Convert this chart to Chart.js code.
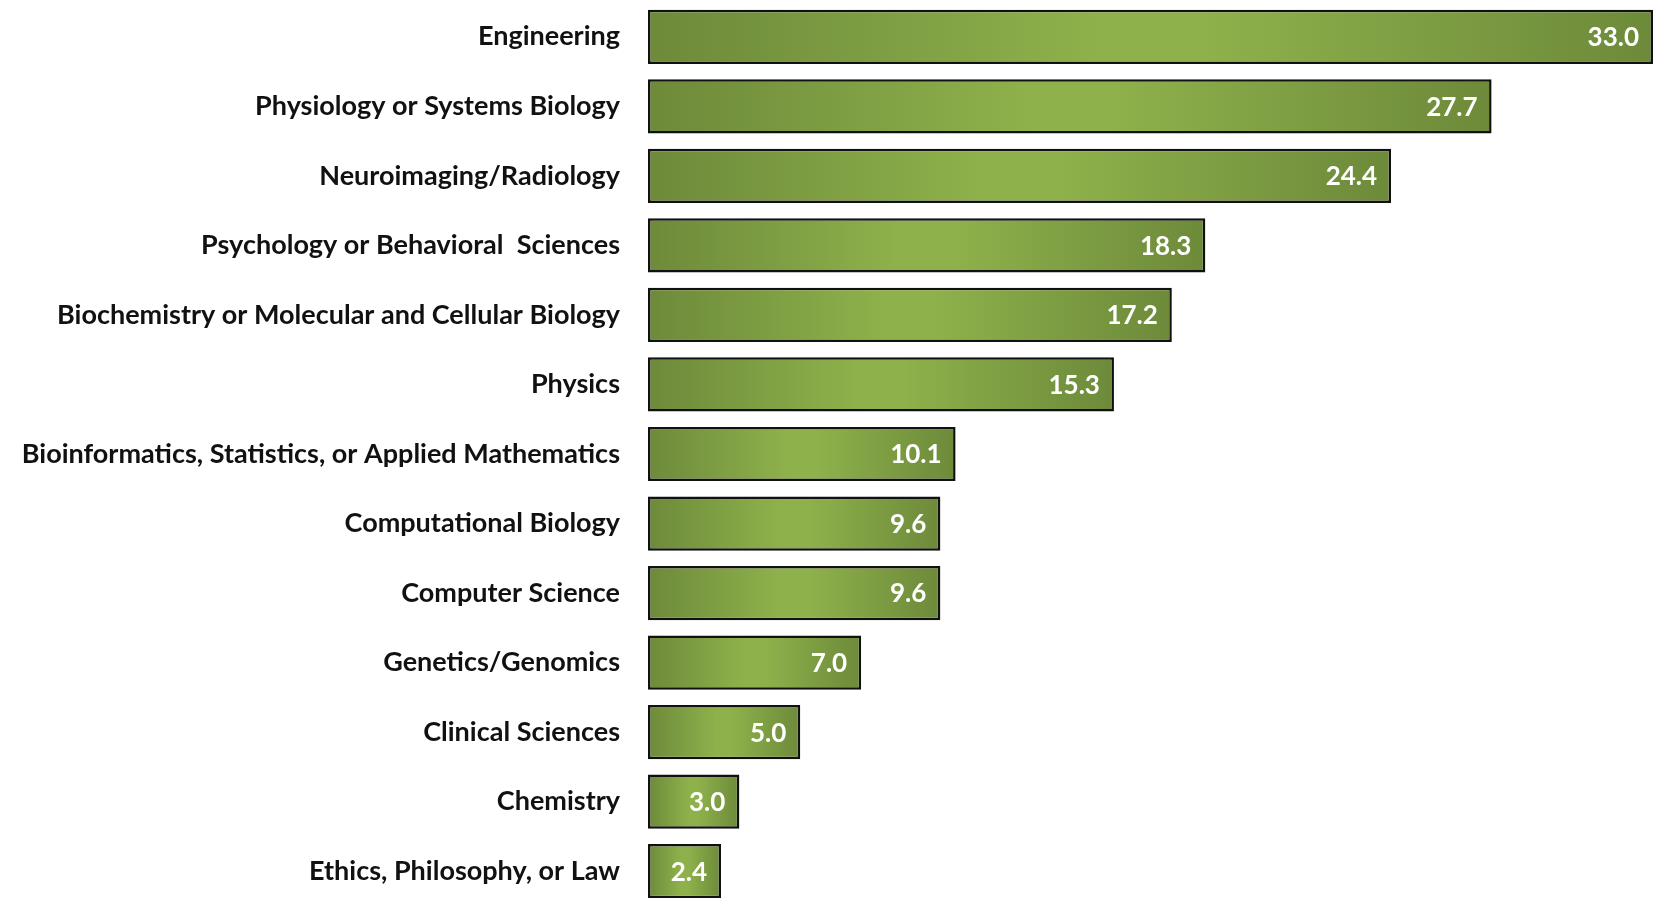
<!DOCTYPE html>
<html>
<head>
<meta charset="utf-8">
<script src="https://cdn.jsdelivr.net/npm/chart.js@4.4.1/dist/chart.umd.min.js"></script>
<style>
    html, body { margin: 0; padding: 0; background: #fff; overflow: hidden; }
    #wrap { position: relative; width: 1654px; height: 908px; }
</style>
</head>
<body>
<div id="wrap"><canvas id="chart"></canvas></div>
<script>
// categories and percentages, top to bottom
const categories = [
    "Engineering",
    "Physiology or Systems Biology",
    "Neuroimaging/Radiology",
    "Psychology or Behavioral  Sciences",
    "Biochemistry or Molecular and Cellular Biology",
    "Physics",
    "Bioinformatics, Statistics, or Applied Mathematics",
    "Computational Biology",
    "Computer Science",
    "Genetics/Genomics",
    "Clinical Sciences",
    "Chemistry",
    "Ethics, Philosophy, or Law"
];
const values = [33.0, 27.7, 24.4, 18.3, 17.2, 15.3, 10.1, 9.6, 9.6, 7.0, 5.0, 3.0, 2.4];

const barDark = "#6d8a3a";
const barLight = "#8eb14b";

// horizontal gradient per bar: dark at both ends, light in the middle
function barGradient(context) {
    const chart = context.chart;
    if (!chart.chartArea) return barLight;
    const x = chart.scales.x;
    const v = context.raw;
    const x0 = x.getPixelForValue(0);
    const x1 = x.getPixelForValue(v);
    if (!isFinite(x0) || !isFinite(x1) || x1 <= x0) return barLight;
    const g = chart.ctx.createLinearGradient(x0, 0, x1, 0);
    g.addColorStop(0, barDark);
    g.addColorStop(0.45, barLight);
    g.addColorStop(0.55, barLight);
    g.addColorStop(1, barDark);
    return g;
}

// value labels inside the end of each bar
const valueLabels = {
    id: "valueLabels",
    afterDatasetsDraw(chart) {
        const ctx = chart.ctx;
        const meta = chart.getDatasetMeta(0);
        ctx.save();
        ctx.font = "bold 26px Lato, 'Liberation Sans', sans-serif";
        ctx.fillStyle = "#ffffff";
        ctx.textAlign = "right";
        ctx.textBaseline = "middle";
        meta.data.forEach((bar, i) => {
            ctx.fillText(values[i].toFixed(1), bar.x - 14, bar.y + 1);
        });
        ctx.restore();
    }
};

new Chart(document.getElementById("chart"), {
    type: "bar",
    data: {
        labels: categories,
        datasets: [{
            data: values,
            backgroundColor: barGradient,
            borderColor: "#111111",
            borderWidth: 2.5,
            borderSkipped: false,
            barPercentage: 0.78,
            categoryPercentage: 1.0
        }]
    },
    options: {
        indexAxis: "y",
        responsive: true,
        maintainAspectRatio: false,
        animation: false,
        layout: { padding: { top: 2, bottom: 2, left: 0, right: 1 } },
        scales: {
            x: {
                display: false,
                min: 0,
                max: 33
            },
            y: {
                grid: { display: false, drawTicks: false },
                border: { display: false },
                ticks: {
                    color: "#111111",
                    padding: 28,
                    autoSkip: false,
                    font: { family: "Lato, 'Liberation Sans', sans-serif", size: 27, weight: "bold" }
                },
                afterFit: scale => {
                    scale.width = 648;
                    scale.paddingTop = 0;
                    scale.paddingBottom = 0;
                }
            }
        },
        plugins: {
            legend: { display: false },
            tooltip: { enabled: false }
        }
    },
    plugins: [valueLabels]
});
</script>
</body>
</html>
